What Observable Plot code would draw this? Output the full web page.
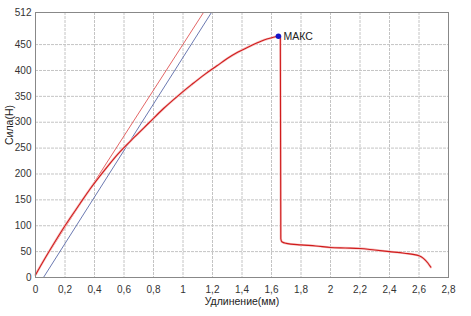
<!DOCTYPE html>
<html><head><meta charset="utf-8">
<script src="https://cdn.jsdelivr.net/npm/d3@7"></script>
<script src="https://cdn.jsdelivr.net/npm/@observablehq/plot@0.6"></script>
<style>body{margin:0;background:#fff;font-family:"Liberation Sans",Arial,sans-serif;}</style>
</head><body><div id="chart"></div>
<script>
const elongation = [0, 0.05, 0.1, 0.2, 0.3, 0.37, 0.47, 0.56, 0.67, 0.77, 0.87, 0.97, 1.06, 1.15, 1.23, 1.3, 1.37, 1.44, 1.5, 1.55, 1.6, 1.647, 1.66, 1.663, 1.67, 1.7, 1.8, 1.9, 2.0, 2.1, 2.2, 2.3, 2.4, 2.5, 2.6, 2.63, 2.66, 2.68];
const force = [5, 30, 54, 100, 142, 171, 208, 239, 271, 299, 327, 352, 373, 393, 409, 423, 435, 445, 453, 459, 463, 466, 464, 75, 69, 66, 63, 61, 58, 57, 56, 53, 50, 47, 42, 37, 28, 20];
const redLineX = [0, 1.139];
const redLineY = [8, 512];
const blueLineX = [0.054, 1.193];
const blueLineY = [0, 512];
const maxPoint = {x: 1.647, y: 466, label: "МАКС"};
const xTicks = [0, 0.2, 0.4, 0.6, 0.8, 1, 1.2, 1.4, 1.6, 1.8, 2, 2.2, 2.4, 2.6, 2.8];
const yTicks = [0, 50, 100, 150, 200, 250, 300, 350, 400, 450, 512];
const xLabel = "Удлинение(мм)";
const yLabel = "Сила(Н)";

const curve = elongation.map((x, i) => ({x, y: force[i]}));
const redLine = redLineX.map((x, i) => ({x, y: redLineY[i]}));
const blueLine = blueLineX.map((x, i) => ({x, y: blueLineY[i]}));
const fmt = d => String(+d.toFixed(1)).replace(".", ",");

const chart = Plot.plot({
  width: 471, height: 316,
  marginLeft: 35, marginRight: 23, marginTop: 12, marginBottom: 39,
  style: {fontFamily: "'Liberation Sans', Arial, sans-serif", fontSize: "10px", color: "#333", background: "#fff"},
  x: {domain: [0, 2.8]},
  y: {domain: [0, 512]},
  marks: [
    Plot.gridX(xTicks, {stroke: "#c4c4c4", strokeOpacity: 1, strokeDasharray: "3,1"}),
    Plot.gridY(yTicks, {stroke: "#c4c4c4", strokeOpacity: 1, strokeDasharray: "3,1"}),
    Plot.axisX(xTicks, {tickSize: 0, tickPadding: 8, tickFormat: fmt, label: null}),
    Plot.axisY(yTicks, {tickSize: 0, tickPadding: 4, tickFormat: d => String(d), label: null}),
    Plot.line(blueLine, {x: "x", y: "y", stroke: "#5a6aa8", strokeWidth: 0.9, clip: true}),
    Plot.line(redLine, {x: "x", y: "y", stroke: "#e05555", strokeWidth: 0.9, clip: true}),
    Plot.line(curve, {x: "x", y: "y", stroke: "#f6c4c4", strokeWidth: 2.4, curve: "monotone-x"}),
    Plot.line(curve, {x: "x", y: "y", stroke: "#d01c1c", strokeWidth: 1.1, curve: "monotone-x"}),
    Plot.frame({stroke: "#888"}),
    Plot.dot([maxPoint], {x: "x", y: "y", r: 2.8, fill: "#1515c8", stroke: "none"}),
    Plot.text([maxPoint], {x: "x", y: "y", text: "label", dx: 5, textAnchor: "start", fill: "#222", fontSize: 10.5}),
    Plot.text([xLabel], {frameAnchor: "bottom", dy: 27, fill: "#222", fontSize: 10.5}),
    Plot.text([yLabel], {frameAnchor: "left", dx: -26, rotate: -90, fill: "#222", fontSize: 10.5})
  ]
});
document.getElementById("chart").append(chart);
</script>
</body></html>
